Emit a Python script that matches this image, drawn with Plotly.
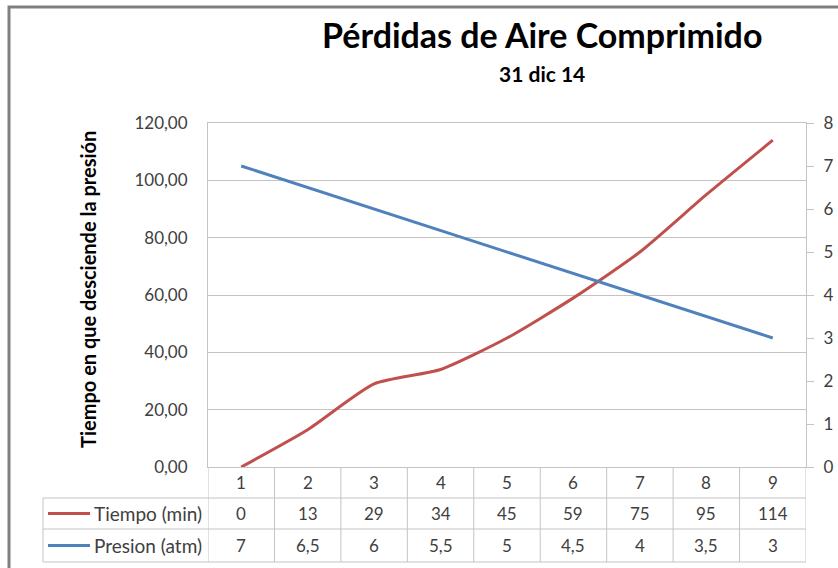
import plotly.graph_objects as go

categories = [1, 2, 3, 4, 5, 6, 7, 8, 9]
tiempo = [0, 13, 29, 34, 45, 59, 75, 95, 114]
presion = [7, 6.5, 6, 5.5, 5, 4.5, 4, 3.5, 3]
tiempo_labels = ["0", "13", "29", "34", "45", "59", "75", "95", "114"]
presion_labels = ["7", "6,5", "6", "5,5", "5", "4,5", "4", "3,5", "3"]
series_names = ["Tiempo (min)", "Presion (atm)"]

W, H = 838, 568
RED = "#C0504D"
BLUE = "#4F81BD"
GRID = "#C4C4C4"
FONT = "Lato, 'Open Sans', sans-serif"
TXT = "#404040"
NUM_SIZE = 17
LBL_SIZE = 19


def px(x):
    return x / W


def py(y):
    return 1 - y / H


fig = go.Figure()
fig.add_trace(go.Scatter(
    x=categories, y=tiempo, name=series_names[0], mode="lines",
    line=dict(color=RED, width=3, shape="spline", smoothing=0.6),
    yaxis="y",
))
fig.add_trace(go.Scatter(
    x=categories, y=presion, name=series_names[1], mode="lines",
    line=dict(color=BLUE, width=3),
    yaxis="y2",
))

shapes = []
# outer chart border (top and left visible)
shapes.append(dict(type="rect", xref="paper", yref="paper",
                   x0=px(9), x1=px(W + 20), y0=py(H + 20), y1=py(7),
                   line=dict(color="#808080", width=3), layer="below"))

# table lines
tbl_top, r1, r2, tbl_bot = 467, 498, 529, 562
left_tbl = 43
for k in range(len(categories) + 1):
    xv = categories[0] - 0.5 + k
    shapes.append(dict(type="line", xref="x", yref="paper",
                       x0=xv, x1=xv, y0=py(tbl_top), y1=py(tbl_bot),
                       line=dict(color=GRID, width=1)))
for yy in (r1, r2, tbl_bot):
    shapes.append(dict(type="line", xref="paper", yref="paper",
                       x0=px(left_tbl), x1=px(806), y0=py(yy), y1=py(yy),
                       line=dict(color=GRID, width=1)))
shapes.append(dict(type="line", xref="paper", yref="paper",
                   x0=px(left_tbl), x1=px(left_tbl), y0=py(r1), y1=py(tbl_bot),
                   line=dict(color=GRID, width=1)))
# legend keys
for yy, col in ((513.5, RED), (545.5, BLUE)):
    shapes.append(dict(type="line", xref="paper", yref="paper",
                       x0=px(48), x1=px(90), y0=py(yy), y1=py(yy),
                       line=dict(color=col, width=3)))

annotations = []
for c in categories:
    annotations.append(dict(xref="x", yref="paper", x=c, y=py(482.5),
                            text=str(c), showarrow=False, xanchor="center",
                            yanchor="middle", font=dict(size=NUM_SIZE, color=TXT, family=FONT)))
for c, t in zip(categories, tiempo_labels):
    annotations.append(dict(xref="x", yref="paper", x=c, y=py(513.5),
                            text=t, showarrow=False, xanchor="center",
                            yanchor="middle", font=dict(size=NUM_SIZE, color=TXT, family=FONT)))
for c, t in zip(categories, presion_labels):
    annotations.append(dict(xref="x", yref="paper", x=c, y=py(545.5),
                            text=t, showarrow=False, xanchor="center",
                            yanchor="middle", font=dict(size=NUM_SIZE, color=TXT, family=FONT)))
for name, yy in zip(series_names, (513.5, 545.5)):
    annotations.append(dict(xref="paper", yref="paper", x=px(204), y=py(yy),
                            text=name, showarrow=False, xanchor="right",
                            yanchor="middle", font=dict(size=LBL_SIZE, color=TXT, family=FONT)))
# titles
annotations.append(dict(xref="paper", yref="paper", x=px(542), y=py(35),
                        text="<b>Pérdidas de Aire Comprimido</b>", showarrow=False,
                        xanchor="center", yanchor="middle",
                        font=dict(size=34, color="#000000", family=FONT)))
annotations.append(dict(xref="paper", yref="paper", x=px(542), y=py(73),
                        text="<b>31 dic 14</b>", showarrow=False,
                        xanchor="center", yanchor="middle",
                        font=dict(size=21, color="#000000", family=FONT)))
annotations.append(dict(xref="paper", yref="paper", x=px(88), y=py(290),
                        text="<b>Tiempo en que desciende la presión</b>", showarrow=False,
                        textangle=-90, xanchor="center", yanchor="middle",
                        font=dict(size=20, color="#000000", family=FONT)))

fig.update_layout(
    template="none",
    width=W, height=H,
    autosize=False,
    margin=dict(l=0, r=0, t=0, b=0, pad=0),
    paper_bgcolor="white", plot_bgcolor="white",
    separators=",.",
    showlegend=False,
    hovermode=False,
    font=dict(family=FONT, color="#595959"),
    xaxis=dict(domain=[px(208), px(806)], range=[0.5, 9.5], automargin=False,
               showticklabels=False, showgrid=False, zeroline=False,
               showline=True, mirror=True, linecolor=GRID, linewidth=1,
               ticks=""),
    yaxis=dict(range=[0, 120], dtick=20, tickformat=".2f", automargin=False,
               domain=[py(467), py(123)],
               showgrid=True, gridcolor=GRID, gridwidth=1, zeroline=False,
               showline=True, linecolor=GRID, ticks="", ticklabelstandoff=16,
               tickfont=dict(size=NUM_SIZE, color=TXT, family=FONT)),
    yaxis2=dict(range=[0, 8], dtick=1, overlaying="y", side="right", automargin=False,
                showgrid=False, zeroline=False, showline=True, linecolor=GRID,
                ticks="outside", ticklen=7, tickcolor=GRID,
                ticklabelstandoff=6,
                tickfont=dict(size=NUM_SIZE, color=TXT, family=FONT)),
    shapes=shapes,
    annotations=annotations,
)

fig.write_html("out.html", config={"displayModeBar": False},
               post_script="document.body.style.margin='0';document.body.style.overflow='hidden';")
